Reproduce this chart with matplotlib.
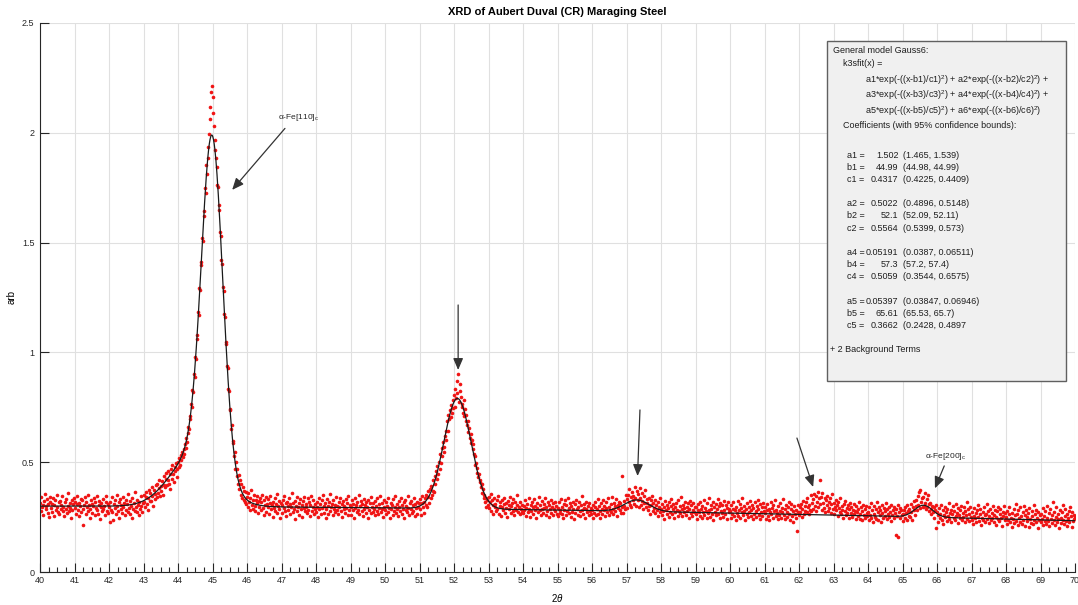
import numpy as np
import matplotlib
matplotlib.use("Agg")
import matplotlib.pyplot as plt
from matplotlib.patches import Rectangle
from matplotlib.ticker import MultipleLocator

plt.rcParams['font.family'] = ['Liberation Sans', 'DejaVu Sans']
plt.rcParams['mathtext.fontset'] = 'custom'
plt.rcParams['mathtext.rm'] = 'Liberation Sans'
plt.rcParams['mathtext.it'] = 'Liberation Sans:italic'

# scan range in degrees 2-theta
scan_start = 40.0
scan_stop = 70.0
scan_step = 0.02

# measured counts in thousandths of arb, one row per degree (40.00 .. 69.98, then 70.00)
intensity_milli = [
    314,277,340,294,305,261,324,357,285,299,331,269,309,250,320,343,290,275,311,336,256,304,327,283,296,350,271,317,264,323,288,306,345,279,298,253,318,332,287,268,301,359,276,312,293,247,328,284,310,338,
    292,321,266,308,347,281,257,315,299,334,273,326,213,289,304,342,262,318,296,279,352,307,244,286,329,311,270,300,337,258,319,293,283,348,265,306,325,241,297,314,276,333,289,302,260,321,345,280,309,268,
    295,228,317,284,341,272,236,309,326,290,263,351,301,278,319,244,332,288,305,270,343,297,316,259,282,327,310,274,355,291,266,322,300,248,338,287,314,279,363,296,271,330,305,258,320,286,347,299,275,313,
    318,352,296,341,365,309,284,337,372,325,361,322,388,347,299,374,356,331,395,343,402,359,381,421,347,393,370,416,352,398,437,388,425,451,396,419,462,403,377,444,468,425,489,446,411,477,458,497,432,471,
    502,476,519,488,531,509,547,522,561,538,583,566,612,594,633,661,652,712,698,763,751,829,818,902,887,981,968,1079,1062,1186,1171,1293,1284,1412,1398,1521,1507,1643,1621,1748,1726,1852,1813,1934,1887,1996,2061,2118,2187,2213,
    2164,2092,2031,1968,1921,1884,1842,1761,1752,1671,1648,1549,1532,1421,1403,1297,1281,1174,1159,1046,1037,936,927,833,826,739,741,652,668,587,596,528,547,471,502,438,467,401,442,376,419,352,401,338,389,327,371,318,364,309,
    342,297,361,318,284,335,372,306,327,289,351,301,276,329,314,345,268,322,296,338,283,317,349,292,259,326,305,340,273,311,298,331,262,315,344,287,303,252,321,293,336,279,308,357,270,299,324,285,247,316,
    305,268,329,291,346,277,312,254,320,299,283,337,264,308,295,359,272,316,289,241,325,302,278,343,297,261,314,331,286,307,250,322,293,340,276,310,298,267,335,284,319,256,303,348,280,294,327,263,311,289,
    274,318,297,252,336,285,309,263,327,291,349,270,302,315,244,288,331,299,266,321,280,354,295,311,258,326,289,306,272,343,283,300,262,317,294,338,277,309,250,324,286,301,268,333,292,314,259,347,281,305,
    296,261,327,284,310,248,339,290,305,271,318,283,352,264,299,325,277,311,256,334,288,303,269,320,294,245,329,281,312,267,341,297,274,316,287,258,323,300,279,335,262,308,291,346,273,314,285,251,326,298,
    282,319,265,301,337,274,293,248,316,288,306,259,331,279,297,344,268,311,285,254,322,296,276,339,263,305,289,317,246,328,281,300,271,348,292,260,314,286,325,269,303,277,336,255,309,290,321,266,298,313,
    287,334,261,312,346,295,318,270,339,303,352,298,341,367,316,378,335,392,349,371,418,366,437,402,459,423,481,445,502,468,539,497,566,528,594,571,547,619,603,641,688,641,717,695,738,707,762,726,781,749,
    806,752,835,791,868,814,902,773,857,823,798,751,763,726,784,709,742,688,715,671,689,636,654,612,629,587,603,562,581,539,528,486,497,451,473,432,444,408,419,386,401,362,377,339,351,318,336,297,329,306,
    341,292,318,356,279,327,304,263,335,298,311,276,329,288,347,265,302,319,254,295,326,281,308,339,270,293,316,249,322,287,305,343,268,299,314,277,331,259,290,320,284,303,352,272,296,263,318,289,307,275,
    269,301,284,326,257,293,311,275,338,288,250,307,279,319,296,263,331,284,302,244,315,290,272,342,281,305,259,324,287,268,309,293,336,261,298,278,317,252,303,286,329,270,295,313,258,289,321,276,300,264,
    292,255,318,281,270,334,263,297,246,311,284,326,259,303,277,339,268,290,312,251,299,274,321,285,243,308,267,330,288,261,296,317,276,253,305,282,344,265,293,311,248,287,320,272,300,258,314,279,291,266,
    283,248,307,270,295,319,258,286,332,264,299,277,245,313,289,266,326,281,302,254,291,318,273,337,260,296,284,309,271,343,288,263,315,299,279,334,256,305,292,321,283,312,270,437,297,268,325,301,286,352,
    334,291,352,318,377,305,341,296,364,329,348,311,389,336,302,371,327,356,294,382,339,307,361,324,289,348,315,372,298,331,312,284,337,299,263,326,305,348,279,316,291,327,268,305,283,319,257,296,338,274,
    288,259,311,276,297,243,322,281,266,305,290,251,318,273,299,334,262,287,309,248,294,271,315,283,256,326,278,300,267,341,285,254,307,274,292,320,261,298,279,312,246,289,323,270,303,257,284,316,275,295,
    263,297,241,282,308,271,255,319,286,248,301,274,329,260,292,277,245,313,268,336,281,252,305,289,266,321,239,296,275,310,258,287,332,264,299,246,316,279,303,270,251,325,284,262,307,293,243,318,273,288,
    276,244,303,262,289,318,253,281,239,297,268,325,257,284,310,246,292,271,335,259,279,302,237,288,315,266,249,296,274,322,255,283,306,241,290,264,317,278,252,299,285,327,261,243,308,272,294,256,313,280,
    267,298,241,283,310,256,289,235,274,319,262,291,248,305,277,326,253,284,269,240,301,258,315,279,246,293,271,332,260,287,243,306,275,252,297,318,264,238,288,311,257,280,229,299,266,247,284,185,272,303,
    258,296,273,311,249,287,322,265,301,279,318,271,336,294,262,307,283,349,276,313,331,288,357,302,344,279,318,366,296,337,419,308,341,284,359,315,292,338,271,326,303,347,279,321,292,336,268,310,355,287,
    314,266,297,329,281,305,254,318,291,273,336,262,299,283,247,311,276,322,258,293,270,305,244,287,316,268,297,251,283,309,262,277,240,301,272,289,255,318,266,243,294,279,235,306,261,285,248,299,270,257,
    271,236,294,258,312,247,283,229,265,301,252,288,243,319,274,238,296,261,283,226,307,269,248,291,255,278,316,240,286,263,297,251,275,233,304,259,282,244,298,267,167,289,254,158,306,272,245,293,281,260,
    262,231,284,247,298,268,239,305,276,253,289,252,311,274,238,296,283,322,261,301,327,284,348,305,366,291,374,318,337,296,341,302,359,316,287,333,298,352,311,279,316,287,264,301,273,295,248,282,201,306,
    273,229,258,291,244,266,305,238,282,217,261,297,249,275,232,288,256,312,241,270,226,284,263,299,247,278,235,309,254,267,222,290,259,244,281,302,237,268,251,295,229,276,260,318,243,285,231,265,297,252,
    238,271,219,256,293,244,267,226,282,251,304,233,262,289,215,247,275,239,298,258,229,266,311,242,280,221,254,287,236,269,248,301,227,260,283,214,252,276,240,294,231,263,286,245,209,272,257,299,235,268,
    251,217,279,236,262,294,228,247,205,270,241,288,223,258,311,232,266,214,283,245,229,297,253,220,274,239,301,211,260,284,233,249,268,206,290,242,225,276,257,218,305,237,264,229,281,248,199,271,235,259,
    226,264,241,292,212,255,233,278,219,247,301,230,268,208,286,243,224,259,317,236,271,214,252,295,229,262,240,201,283,248,222,274,237,306,218,257,289,231,266,210,245,280,227,298,253,205,271,234,261,243,
    252,
]

# Gauss6 peak terms shown in the results box (a1, a2, a4, a5 ...)
peak_a = [1.502, 0.5022, 0.05191, 0.05397]
peak_b = [44.99, 52.1, 57.3, 65.61]
peak_c = [0.4317, 0.5564, 0.5059, 0.3662]
# the two background terms (a3, a6)
bg_a = [0.300, 0.24]
bg_b = [40.0, 44.5]
bg_c = [60.0, 1.0]

y_ticks = [0, 0.5, 1, 1.5, 2, 2.5]
y_tick_labels = ['0', '0.5', '1', '1.5', '2', '2.5']

box_names = [["a1", "b1", "c1"], ["a2", "b2", "c2"], ["a4", "b4", "c4"], ["a5", "b5", "c5"]]
box_values = [["1.502", "44.99", "0.4317"], ["0.5022", "52.1", "0.5564"],
              ["0.05191", "57.3", "0.5059"], ["0.05397", "65.61", "0.3662"]]
box_bounds = [["(1.465, 1.539)", "(44.98, 44.99)", "(0.4225, 0.4409)"],
              ["(0.4896, 0.5148)", "(52.09, 52.11)", "(0.5399, 0.573)"],
              ["(0.0387, 0.06511)", "(57.2, 57.4)", "(0.3544, 0.6575)"],
              ["(0.03847, 0.06946)", "(65.53, 65.7)", "(0.2428, 0.4897"]]


def gauss_sum(x, a, b, c):
    y = np.zeros_like(x)
    for ai, bi, ci in zip(a, b, c):
        y += ai * np.exp(-((x - bi) / ci) ** 2)
    return y


two_theta = np.linspace(scan_start, scan_stop, len(intensity_milli))
intensity = np.array(intensity_milli) / 1000.0

x_fit = np.linspace(scan_start, scan_stop, 3001)
y_fit = gauss_sum(x_fit, peak_a, peak_b, peak_c) + gauss_sum(x_fit, bg_a, bg_b, bg_c)

W, H = 1078, 605
fig = plt.figure(figsize=(W / 100, H / 100), dpi=100)
ax = fig.add_axes([40 / W, 1 - 572 / H, 1035 / W, 549 / H])

axis_col = '#262626'
ax.plot(two_theta, intensity, 'o', color='#f01414', ms=2.6, mew=0, zorder=2)
ax.plot(x_fit, y_fit, color='#1a1a1a', lw=0.9, zorder=3)

ax.set_xlim(scan_start, scan_stop)
ax.set_ylim(0, 2.5)
ax.xaxis.set_major_locator(MultipleLocator(1))
ax.xaxis.set_minor_locator(MultipleLocator(0.25))
ax.set_yticks(y_ticks)
ax.set_yticklabels(y_tick_labels)
ax.tick_params(which='both', direction='in', colors=axis_col, labelsize=6.5, width=0.8)
ax.tick_params(which='major', length=6.5, pad=3)
ax.tick_params(which='minor', length=3.5)
ax.tick_params(axis='y', pad=4)
for s in ['top', 'right']:
    ax.spines[s].set_visible(False)
for s in ['left', 'bottom']:
    ax.spines[s].set_color(axis_col)
    ax.spines[s].set_linewidth(0.8)
ax.grid(True, which='major', color='#e0e0e0', lw=0.8)
ax.set_axisbelow(True)

ax.set_title('XRD of Aubert Duval (CR) Maraging Steel', fontsize=8, fontweight='bold', pad=6)
ax.set_xlabel(r'2$\theta$', fontsize=7)
ax.set_ylabel('arb', fontsize=7)
ax.xaxis.set_label_coords(0.5, -(592 - 572) / 549)
ax.yaxis.set_label_coords(-(40 - 17) / 1035, 0.5)

# peak markers
arrow_kw = dict(arrowstyle='-|>,head_length=0.7,head_width=0.3', color='#333333', lw=0.9,
                mutation_scale=10, shrinkA=0, shrinkB=0)
arrows = [((47.10, 2.02), (45.57, 1.74)),
          ((52.12, 1.216), (52.12, 0.92)),
          ((57.39, 0.738), (57.32, 0.437)),
          ((61.94, 0.61), (62.41, 0.387)),
          ((66.21, 0.483), (65.94, 0.381))]
for start, tip in arrows:
    ax.annotate('', xy=tip, xytext=start, arrowprops=arrow_kw, zorder=4)
ax.text(46.9, 2.07, r'α-Fe[110]$_{\mathregular{c}}$', fontsize=6, va='center', color=axis_col)
ax.text(65.65, 0.524, r'α-Fe[200]$_{\mathregular{c}}$', fontsize=6, va='center', color=axis_col)

# results box
def ftext(px, py, s, **kw):
    fig.text(px / W, 1 - py / H, s, fontsize=6.5, va='center', color='#1e1e1e', **kw)

fig.add_artist(Rectangle((827 / W, 1 - 381 / H), (1066 - 827) / W, (381 - 41) / H,
                         transform=fig.transFigure, facecolor='#f0f0f0', edgecolor='#606060', lw=1.0))
ftext(832.7, 50.7, 'General model Gauss6:')
ftext(842.7, 63.3, 'k3sfit(x) =')
ftext(865, 80, r'a1*exp(-((x-b1)/c1)$^2$) + a2*exp(-((x-b2)/c2)$^2$) +')
ftext(865, 95.5, r'a3*exp(-((x-b3)/c3)$^2$) + a4*exp(-((x-b4)/c4)$^2$) +')
ftext(865, 111, r'a5*exp(-((x-b5)/c5)$^2$) + a6*exp(-((x-b6)/c6)$^2$)')
ftext(842.7, 125, 'Coefficients (with 95% confidence bounds):')
row_y = 155
for names, vals, bounds in zip(box_names, box_values, box_bounds):
    for n, v, b in zip(names, vals, bounds):
        ftext(846.7, row_y, n + ' =')
        ftext(898.5, row_y, v, ha='right')
        ftext(903, row_y, b)
        row_y += 12.2
    row_y += 12.2
ftext(830, 350, '+ 2 Background Terms')

fig.savefig('out.png', dpi=100)
